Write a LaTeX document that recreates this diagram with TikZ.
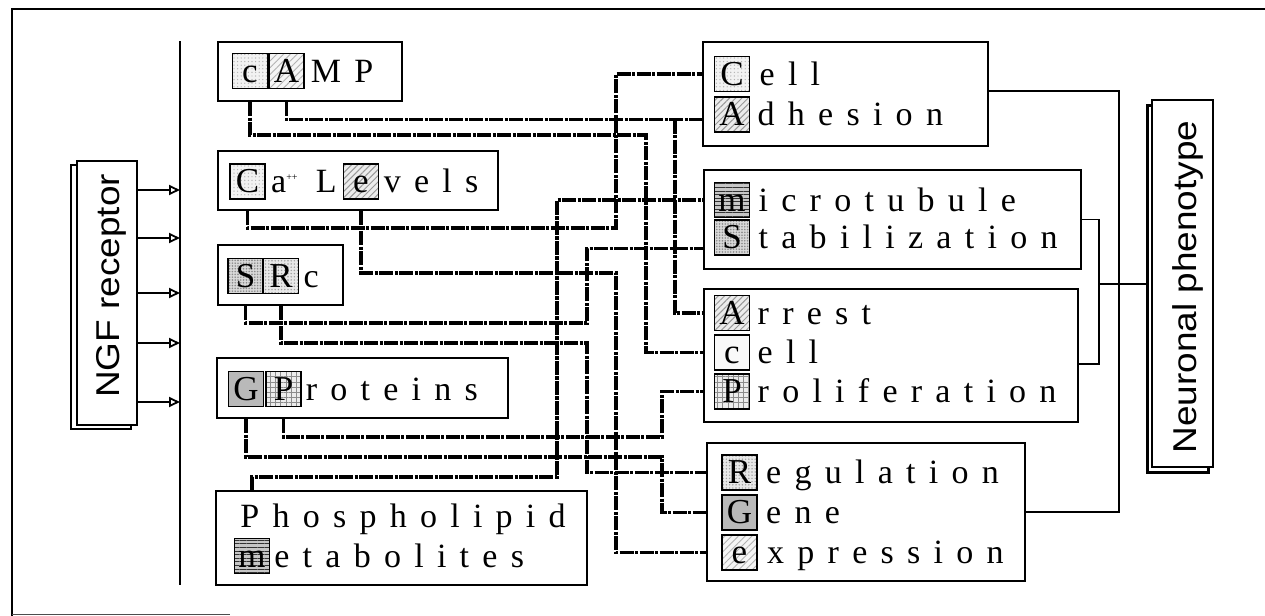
\documentclass[tikz,border=0pt]{standalone}
\usepackage{fontspec}
\setmainfont{Liberation Serif}
\newfontfamily\lsp[LetterSpace=39]{Liberation Serif}
\newfontfamily\sansN[FakeStretch=1.12]{Liberation Sans}
\usetikzlibrary{arrows.meta,patterns.meta,calc}
\begin{document}
\begin{tikzpicture}[x=0.5pt,y=-0.5pt,
  mbox/.style={draw, line width=1.1pt, inner sep=0pt, fill=white},
  lbox/.style={draw, line width=0.8pt, minimum width=17.5pt, minimum height=17.5pt,
    inner sep=0pt, text height=11.3pt, text depth=0pt, font=\fontsize{17.5}{20}\selectfont},
  txt/.style={inner sep=0pt, anchor=base west, font=\lsp\fontsize{17}{20}\selectfont},
  ptxt/.style={inner sep=0pt, anchor=base west, font=\fontsize{17}{20}\selectfont},
  link/.style={line width=1.6pt, black, dash pattern=on 7pt off 0.7pt on 1.6pt off 0.7pt},
  brk/.style={line width=0.9pt},
  arr/.style={line width=0.9pt, -{Triangle[open, length=5.5pt, width=5pt]}},
  rot/.style={rotate=90, inner sep=0pt, font=\sansN\fontsize{16.5}{20}\selectfont},
  pdotL/.style={preaction={fill=gray!10}, pattern={Dots[distance=1.8pt,radius=0.35pt]}, pattern color=gray!60},
  pdotM/.style={preaction={fill=gray!18}, pattern={Dots[distance=1.6pt,radius=0.4pt]}, pattern color=gray!75},
  pdotD/.style={preaction={fill=gray!30}, pattern={Dots[distance=1.4pt,radius=0.45pt]}, pattern color=gray!90},
  phatchL/.style={preaction={fill=gray!8}, pattern={Lines[angle=45,distance=2.4pt,line width=0.45pt]}, pattern color=gray!60},
  phatch/.style={preaction={fill=gray!15}, pattern={Lines[angle=45,distance=2.2pt,line width=0.5pt]}, pattern color=gray!80},
  pgrey/.style={fill=gray!55},
  pgrid/.style={preaction={fill=gray!15}, pattern={Hatch[angle=0,distance=2.6pt,line width=0.45pt]}, pattern color=gray!90},
  phoriz/.style={preaction={fill=gray!45}, pattern={Lines[angle=0,distance=1.8pt,line width=0.5pt]}, pattern color=black!80},
  plight/.style={fill=gray!5}]
\useasboundingbox (0,0) rectangle (1265,616);

% frame
\draw[line width=0.9pt] (1265,9) -- (12,9) -- (12,616);
\draw[line width=0.7pt, black!70] (12,614.5) -- (230,614.5);

% main boxes, left
\node[mbox, minimum width=92pt, minimum height=29.5pt] (cAMP) at (310,71.5) {};
\node[mbox, minimum width=140pt, minimum height=29.5pt] (Ca) at (358,180.5) {};
\node[mbox, minimum width=62.5pt, minimum height=30pt] (SRc) at (280.5,275) {};
\node[mbox, minimum width=145.5pt, minimum height=30pt] (GP) at (362.5,388) {};
\node[mbox, minimum width=185.5pt, minimum height=47pt] (Ph) at (401.5,538) {};
% main boxes, right
\node[mbox, minimum width=142.5pt, minimum height=52pt] (Cell) at (845.5,94) {};
\node[mbox, minimum width=188.5pt, minimum height=49.5pt] (Mic) at (892.5,219.5) {};
\node[mbox, minimum width=187pt, minimum height=66.5pt] (Arr) at (891,355.5) {};
\node[mbox, minimum width=159pt, minimum height=69pt] (Reg) at (866,512) {};

% NGF receptor and neuronal phenotype
\node[mbox, minimum width=30pt, minimum height=132pt] (NGFb) at (101,297) {};
\node[mbox, minimum width=30pt, minimum height=132pt] (NGF) at (107,293) {};
\node[rot] (NGFt) at (111,286) {NGF receptor};
\node[mbox, minimum width=30.5pt, minimum height=183.5pt] (NPb) at (1178,289) {};
\node[mbox, minimum width=30.5pt, minimum height=183.5pt] (NP) at (1182.5,283.5) {};
\node[rot] (NPt) at (1188,287) {Neuronal phenotype};

% bar and arrows
\coordinate (barT) at (180,41);
\coordinate (barB) at (180,585);
\draw[line width=0.9pt] (barT) -- (barB);
\foreach \yy in {190,238,293,343,402}
  \draw[arr] (NGF.east |- 0,\yy) -- (barT |- 0,\yy);

% letter boxes left
\node[lbox, pdotL] (cAc) at (250,71) {c};
\node[lbox, phatchL] (cAA) at (286.5,71) {A};
\node[txt, xshift=3pt] (tMP) at (cAA.base east) {MP};
\node[lbox, pdotL] (caC) at (247.5,181.5) {C};
\node[ptxt, xshift=2.5pt] (tCa) at (caC.base east) {a\textsuperscript{\tiny ++}};
\node[lbox, phatch] (cae) at (361,181.5) {e};
\node[ptxt, anchor=base east, xshift=-3pt] (tL) at (cae.base west) {L};
\node[txt, xshift=2.2pt] (tvels) at (cae.base east) {vels};
\node[lbox, pdotD] (sS) at (245.5,276) {S};
\node[lbox, pdotM] (sR) at (281,276) {R};
\node[txt, xshift=2pt] (tc) at (sR.base east) {c};
\node[lbox, pgrey] (gG) at (246,389) {G};
\node[lbox, pgrid] (gP) at (283.5,389) {P};
\node[txt, xshift=2pt] (troteins) at (gP.base east) {roteins};
\node[txt] (tPhos) at (240,527) {Phospholipid};
\node[lbox, phoriz] (pm) at (252,556) {m};
\node[txt, xshift=2pt] (tetab) at (pm.base east) {etabolites};

% letter boxes right
\node[lbox, pdotL] (rCC) at (732,74) {C};
\node[txt, xshift=4.5pt] (tell) at (rCC.base east) {ell};
\node[lbox, phatch] (rCA) at (732,114.5) {A};
\node[txt, xshift=3.5pt] (tdhes) at (rCA.base east) {dhesion};
\node[lbox, phoriz] (rMm) at (732,200) {m};
\node[txt, xshift=4pt] (ticro) at (rMm.base east) {icrotubule};
\node[lbox, pdotD] (rMS) at (732,237.5) {S};
\node[txt, xshift=4pt] (ttabil) at (rMS.base east) {tabilization};
\node[lbox, phatch] (rArA) at (732,313) {A};
\node[txt, xshift=3.5pt] (trrest) at (rArA.base east) {rrest};
\node[lbox, plight] (rArc) at (732,352.5) {c};
\node[txt, xshift=3.5pt] (tell2) at (rArc.base east) {ell};
\node[lbox, pgrid] (rArP) at (732,391.5) {P};
\node[txt, xshift=3.5pt] (troli) at (rArP.base east) {roliferation};
\node[lbox, pdotM] (rRR) at (739.5,472.5) {R};
\node[txt, xshift=4pt] (tegul) at (rRR.base east) {egulation};
\node[lbox, pgrey] (rRG) at (739.5,512.5) {G};
\node[txt, xshift=4pt] (tene) at (rRG.base east) {ene};
\node[lbox, phatchL] (rRe) at (739.5,552.5) {e};
\node[txt, xshift=4.5pt] (txpr) at (rRe.base east) {xpression};

% connectors
\draw[link] (cAc |- cAMP.south) |- (646,135) |- (Arr.west |- rArc);
\draw[link] (cAA |- cAMP.south) |- ($(Cell.west |- rCA)+(0,5)$);
\draw[link] (675,119.5) |- (Arr.west |- rArA);
\draw[link] (caC |- Ca.south) |- (616,228) |- (Cell.west |- rCC);
\draw[link] (cae |- Ca.south) |- (616,273) |- (Reg.west |- rRe);
\draw[link] (sS |- SRc.south) |- (587,323) |- ($(Mic.west |- rMS)+(0,11)$);
\draw[link] (sR |- SRc.south) |- (587,343) |- (Reg.west |- rRR);
\draw[link] (gP |- GP.south) |- (662,437) |- (Arr.west |- rArP);
\draw[link] (gG |- GP.south) |- (662,457) |- (Reg.west |- rRG);
\draw[link] (pm |- Ph.north) |- (557,477) |- (Mic.west |- rMm);

% brackets on the right
\coordinate (bxA) at (1099,284);
\coordinate (bxB) at (1119,300);
\draw[brk] (Mic.east) -| (bxA) |- ($(Arr.east)+(0,8.5)$);
\draw[brk] (bxA) -- (NPb.west |- bxA);
\draw[brk] ($(Cell.east)+(0,-3)$) -| (bxB) |- (Reg.east);
\end{tikzpicture}
\end{document}
